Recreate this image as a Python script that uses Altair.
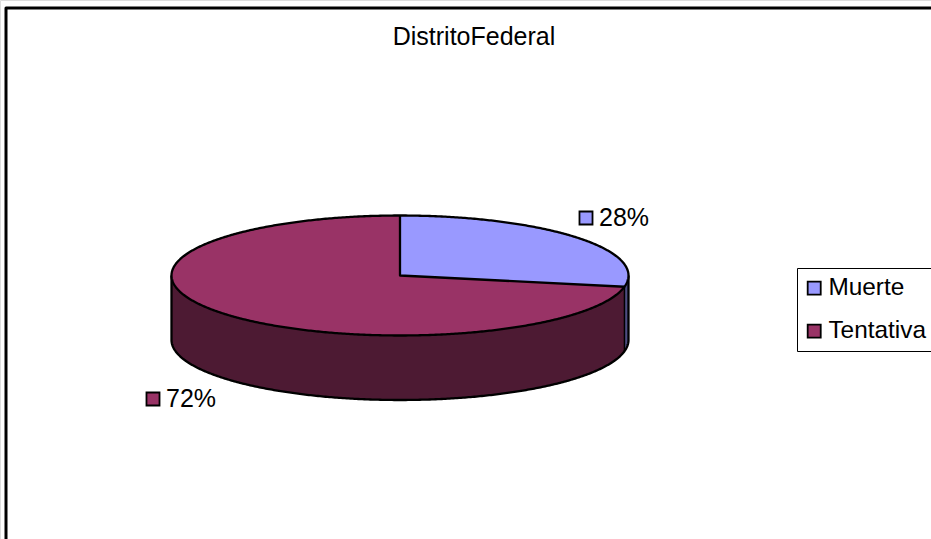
import altair as alt
import numpy as np
import pandas as pd

# Values of the pie
categories = ["Muerte", "Tentativa"]
shares = [28, 72]
labels = ["28%", "72%"]
top_colors = ["#9999FF", "#993366"]
side_colors = ["#4D4D80", "#4D1A33"]

# Layout of the drawing, in pixels of the 931x539 canvas
W, H = 931, 539
CX, CY, RX, RY, DEPTH = 400.0, 275.5, 228.5, 60.0, 64.5
LABEL_X = [586, 153]
LABEL_Y = [218, 399]
FONT = "Liberation Sans"

# First slice starts at twelve o'clock and runs clockwise
end_angle = 2 * np.pi * shares[0] / sum(shares)
xe = CX + RX * np.sin(end_angle)
ye = CY - RY * np.cos(end_angle)

t = np.linspace(0, np.pi, 361)
xs = np.unique(np.concatenate([CX + RX * np.cos(t), [xe, CX]]))
half = RY * np.sqrt(np.clip(1 - ((xs - CX) / RX) ** 2, 0, 1))
upper = CY - half
lower = CY + half

x_scale = alt.Scale(domain=[0, W], range=[0, W], nice=False, zero=False)
y_scale = alt.Scale(domain=[0, H], range=[0, H], nice=False, zero=False)


def band(name, color, x, y, y2):
    frame = pd.DataFrame({"x": x, "y": y, "y2": y2})
    return (
        alt.Chart(frame, name=name)
        .mark_area(color=color, opacity=1, interpolate="linear")
        .encode(
            x=alt.X("x:Q", scale=x_scale, axis=None),
            y=alt.Y("y:Q", scale=y_scale, axis=None),
            y2="y2:Q",
        )
    )


def stroke(name, x, y, width=2.3):
    frame = pd.DataFrame({"x": x, "y": y, "i": np.arange(len(x))})
    return (
        alt.Chart(frame, name=name)
        .mark_line(color="black", strokeWidth=width, strokeJoin="round")
        .encode(
            x=alt.X("x:Q", scale=x_scale, axis=None),
            y=alt.Y("y:Q", scale=y_scale, axis=None),
            order="i:Q",
        )
    )


# Rim of the disc, split where the slices meet
left = xs <= xe
right = xs >= xe
side_a = band("side_tentativa", side_colors[1], xs[left], lower[left], lower[left] + DEPTH)
side_b = band("side_muerte", side_colors[0], xs[right], lower[right], lower[right] + DEPTH)

# Top face: the whole ellipse, then the first slice over it
top_full = band("top_tentativa", top_colors[1], xs, upper, lower)
mask = xs >= CX
seg = CY + (ye - CY) * (xs - CX) / (xe - CX)
slice_low = np.where(xs <= xe, seg, lower)
top_slice = band("top_muerte", top_colors[0], xs[mask], upper[mask], slice_low[mask])

# Outlines
ell_x = np.concatenate([xs, xs[::-1]])
ell_y = np.concatenate([upper, lower[::-1]])
outline = stroke("outline", ell_x, ell_y)
bottom_x = np.concatenate([[xs[0]], xs, [xs[-1]]])
bottom_y = np.concatenate([[lower[0]], lower + DEPTH, [lower[-1]]])
rim = stroke("rim", bottom_x, bottom_y)
seam = stroke("seam", [xe, xe], [ye, ye + DEPTH], 1.5)
radii = stroke("radii", [CX, CX, xe], [CY - RY, CY, ye])

# Canvas frame along the top and left
frame_line = stroke("frame", [6, 6, W], [H, 8, 8], 3)

# Data labels, whose keys also feed the legend
label_df = pd.DataFrame(
    {"cat": categories, "label": labels, "x": LABEL_X, "y": LABEL_Y}
)
color = alt.Color(
    "cat:N",
    scale=alt.Scale(domain=categories, range=top_colors),
    legend=alt.Legend(
        title=None,
        orient="none",
        legendX=797,
        legendY=268,
        padding=8,
        strokeColor="black",
        fillColor="white",
        symbolType="square",
        symbolSize=170,
        symbolOffset=-3,
        symbolStrokeColor="black",
        symbolStrokeWidth=1.8,
        symbolOpacity=1,
        labelFont=FONT,
        labelFontSize=24.4,
        labelColor="black",
        labelOffset=2,
        rowPadding=18,
    ),
)
keys = (
    alt.Chart(label_df)
    .mark_point(shape="square", filled=True, size=170, opacity=1, stroke="black", strokeWidth=1.8)
    .encode(
        x=alt.X("x:Q", scale=x_scale, axis=None),
        y=alt.Y("y:Q", scale=y_scale, axis=None),
        color=color,
    )
)
texts = (
    alt.Chart(label_df)
    .mark_text(font=FONT, fontSize=25, align="left", baseline="middle", dx=13, color="black")
    .encode(
        x=alt.X("x:Q", scale=x_scale, axis=None),
        y=alt.Y("y:Q", scale=y_scale, axis=None),
        text="label:N",
    )
)
title = (
    alt.Chart(pd.DataFrame({"t": ["DistritoFederal"], "x": [474], "y": [37]}))
    .mark_text(font=FONT, fontSize=25, align="center", baseline="middle", color="black")
    .encode(
        x=alt.X("x:Q", scale=x_scale, axis=None),
        y=alt.Y("y:Q", scale=y_scale, axis=None),
        text="t:N",
    )
)

chart = (
    alt.layer(
        frame_line, side_a, side_b, rim, seam, top_full, top_slice, outline, radii,
        keys, texts, title,
    )
    .properties(width=W, height=H, padding=0, autosize=alt.AutoSizeParams(type="none"))
    .configure_view(stroke=None)
    .configure(background="white")
)
chart.save("out.html", embed_options={"renderer": "svg", "actions": False})
